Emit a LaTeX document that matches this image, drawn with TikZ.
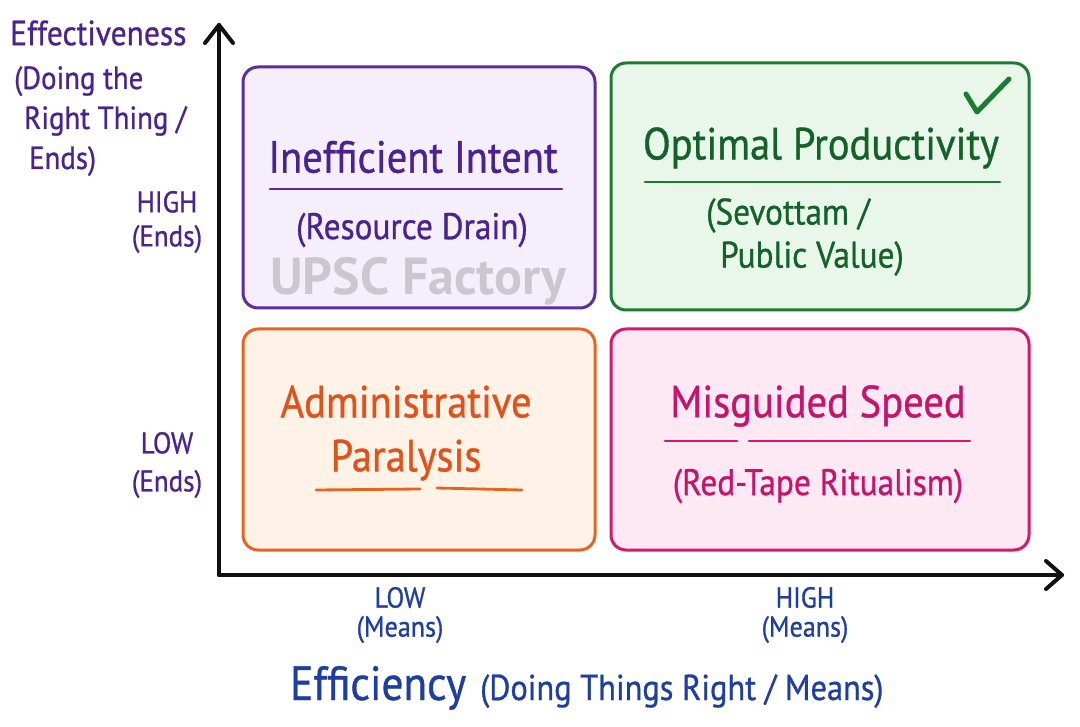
\documentclass[tikz,border=0pt]{standalone}
\usepackage{fontspec}
\setmainfont{PT Sans}[FakeStretch=0.9, FakeBold=0.8]
\newfontfamily\wmfont{PT Sans}
\usetikzlibrary{arrows.meta}
\definecolor{pstroke}{HTML}{5B2D9E}
\definecolor{pfill}{HTML}{F4EFFB}
\definecolor{ptext}{HTML}{4B2390}
\definecolor{gstroke}{HTML}{1E7B34}
\definecolor{gfill}{HTML}{E9F7EA}
\definecolor{gtext}{HTML}{14622A}
\definecolor{ostroke}{HTML}{E8641E}
\definecolor{ofill}{HTML}{FFF3E8}
\definecolor{otext}{HTML}{E0521A}
\definecolor{kstroke}{HTML}{D3196E}
\definecolor{kfill}{HTML}{FCE9F3}
\definecolor{ktext}{HTML}{C8136A}
\definecolor{btext}{HTML}{1F3FA0}
\definecolor{axiscol}{HTML}{111111}
\definecolor{wmark}{HTML}{CBC6D0}
\newcommand{\fs}[1]{\fontsize{#1}{\numexpr #1*6/5\relax}\selectfont}
\tikzset{
  quad/.style={draw, line width=3pt, rounded corners=15pt},
  axisline/.style={draw=axiscol, line width=4pt, line cap=round, line join=round},
  title/.style={inner sep=0pt, font=\fs{45}},
  sub/.style={inner sep=0pt, font=\fs{37}},
  ytick/.style={inner sep=0pt, align=center, font=\fs{30}, text=ptext},
  xtick/.style={inner sep=0pt, align=center, font=\fs{29}, text=btext},
  uline/.style={line width=2.8pt, line cap=round},
}
\begin{document}
\begin{tikzpicture}[x=1pt,y=-1pt]
\useasboundingbox[fill=white] (0,0) rectangle (1080,727);
% boxes
\draw[quad, draw=pstroke, fill=pfill] (243,67) rectangle (595,308);
\draw[quad, draw=gstroke, fill=gfill] (611,63) rectangle (1029,310);
\draw[quad, draw=ostroke, fill=ofill] (243,329) rectangle (595,550);
\draw[quad, draw=kstroke, fill=kfill] (611,329) rectangle (1029,550);
% axes
\coordinate (origin) at (219,575);
\coordinate (ytip) at (219,25);
\coordinate (xtip) at (1062,575);
\draw[axisline] (origin) -- (ytip);
\draw[axisline] (205,43) -- (ytip) -- (233,43);
\draw[axisline] (origin) -- (xtip);
\draw[axisline] (1046,561) -- (xtip) -- (1046,589);
% y labels
\node[anchor=west, inner sep=0pt, text=ptext, font=\fs{35}] (yl) at (10,33) {Effectiveness};
\node[anchor=north west, inner sep=0pt, text=ptext, font=\fs{32}, align=left] (ylsub) at (14,66) {(Doing the\\[2pt]\hspace*{10pt}Right Thing /\\[2pt]\hspace*{15pt}Ends)};
\node[ytick] (yhigh) at (167,222) {HIGH\\[-2pt](Ends)};
\node[ytick] (ylow) at (167,465) {LOW\\[2pt](Ends)};
% x labels
\node[xtick] (xlow) at (400,615) {LOW\\[-6pt](Means)};
\node[xtick] (xhigh) at (805,615) {HIGH\\[-6pt](Means)};
\node[inner sep=0pt, text=btext, anchor=base west] (xl) at (290,700) {{\fs{48}Efficiency}\hspace{14pt}{\fs{36}(Doing Things Right / Means)}};
% purple quadrant
\node[title, text=ptext] (ii) at (413,157) {Inefficient Intent};
\draw[uline, pstroke] (270,189) -- (562,189);
\node[sub, text=ptext] (rd) at (412,230) {(Resource Drain)};
\node[inner sep=0pt, text=wmark, font=\wmfont\fontsize{52}{60}\selectfont\bfseries] (wm) at (418,281) {UPSC Factory};
% green quadrant
\node[title, text=gtext] (op) at (821,148) {Optimal Productivity};
\draw[uline, gstroke] (645,182) -- (1000,182);
\node[sub, text=gtext, align=left, anchor=west] (sv) at (706,237) {(Sevottam /\\[-1pt]\hspace*{14pt}Public Value)};
\draw[gstroke, line width=5pt, line cap=round, line join=round] (966,94) -- (977,112) -- (1009,79);
% orange quadrant
\node[title, text=otext, align=center] (ap) at (406,433) {Administrative\\[0pt]Paralysis};
\draw[uline, ostroke] (316,490) -- (420,489);
\draw[uline, ostroke] (437,488) -- (522,490);
% pink quadrant
\node[title, text=ktext] (ms) at (818,406) {Misguided Speed};
\draw[uline, kstroke] (665,441) -- (737,441);
\draw[uline, kstroke] (749,441) -- (970,441);
\node[sub, text=ktext] (rt) at (818,486) {(Red-Tape Ritualism)};
\end{tikzpicture}
\end{document}
